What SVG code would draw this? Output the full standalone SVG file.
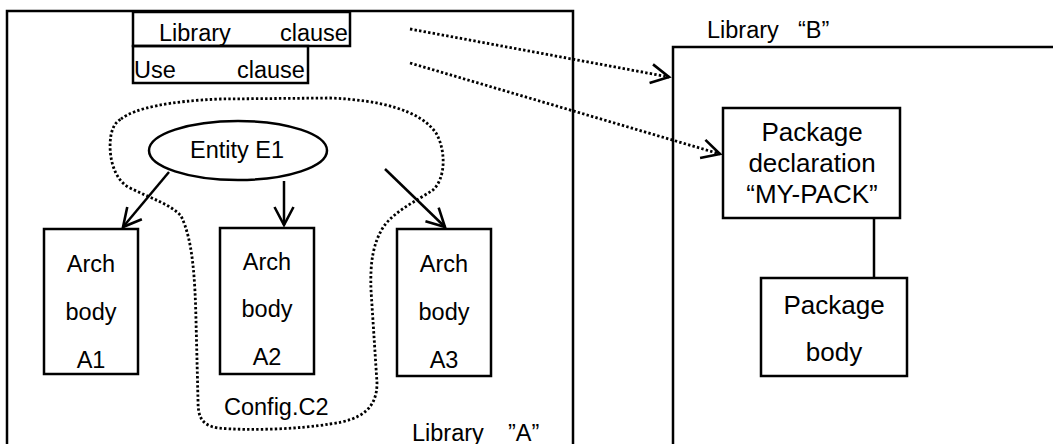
<svg xmlns="http://www.w3.org/2000/svg" width="1053" height="444" viewBox="0 0 1053 444">
<style>
.box{fill:none;stroke:#000;stroke-width:2.5}
.ln{fill:none;stroke:#000;stroke-width:2.5}
.dot{fill:none;stroke:#000;stroke-width:2.8;stroke-dasharray:2.4 2.2}
text{font-family:"Liberation Sans",Arial,sans-serif;font-size:23.5px;fill:#000}
.c{text-anchor:middle}
.pk{font-size:26px}
</style>
<defs>
<marker id="arr" markerUnits="userSpaceOnUse" markerWidth="40" markerHeight="40" refX="0" refY="0" viewBox="-20 -20 40 40" orient="auto" overflow="visible">
<path d="M-18,-9.5 L0,0 L-18,9.5" fill="none" stroke="#000" stroke-width="2.6" stroke-dasharray="none"/>
</marker>
</defs>
<rect width="1053" height="444" fill="#fff"/>
<g id="libraryA">
<rect class="box" x="7" y="11" width="566" height="445"/>
<text x="412" y="441">Library</text>
<text x="508" y="441">”A”</text>
</g>
<g id="libraryB">
<rect class="box" x="673" y="47" width="400" height="410"/>
<text x="707" y="38">Library</text>
<text x="798" y="38">“B”</text>
</g>
<g id="libclause">
<rect class="box" x="133" y="12" width="217" height="34"/>
<text y="41"><tspan x="159">Library</tspan><tspan x="280">clause</tspan></text>
</g>
<g id="useclause">
<rect class="box" x="133" y="46" width="175" height="37"/>
<text y="78"><tspan x="134">Use</tspan><tspan x="237">clause</tspan></text>
</g>
<g id="config">
<path class="dot" d="M121,119 C135,108 170,101 220,99 L330,98 C380,100 420,110 436,133 C446,150 446,178 433,190 C418,200 396,210 384,226 C373,243 370,262 371,290 L377,383 C377,408 362,420 330,424 C300,429 250,431 218,428 C200,425 198,415 198,400 L196,320 C195,280 193,240 181,216 C172,205 150,198 128,187 C112,177 108,152 111,135 C113,126 116,122 121,119 Z"/>
<text x="224" y="415">Config.C2</text>
</g>
<g id="entity">
<ellipse class="box" cx="238" cy="150.5" rx="89" ry="29.5"/>
<text class="c" x="237" y="158">Entity E1</text>
</g>
<g id="a1">
<rect class="box" x="44" y="229" width="94" height="145"/>
<text class="c" x="91" y="272">Arch</text>
<text class="c" x="91" y="320">body</text>
<text class="c" x="91" y="368">A1</text>
</g>
<g id="a2">
<rect class="box" x="220" y="228" width="94" height="146"/>
<text class="c" x="267" y="270">Arch</text>
<text class="c" x="267" y="317">body</text>
<text class="c" x="267" y="365">A2</text>
</g>
<g id="a3">
<rect class="box" x="397" y="229" width="94" height="147"/>
<text class="c" x="444" y="272">Arch</text>
<text class="c" x="444" y="320">body</text>
<text class="c" x="444" y="368">A3</text>
</g>
<g id="pkgdecl">
<rect class="box" x="723" y="108" width="177" height="110"/>
<text class="c pk" x="812" y="141">Package</text>
<text class="c pk" x="812" y="172">declaration</text>
<text class="c pk" x="812" y="203">“MY-PACK”</text>
</g>
<g id="pkgbody">
<rect class="box" x="761" y="278" width="146" height="98"/>
<text class="c pk" x="834" y="314">Package</text>
<text class="c pk" x="834" y="361">body</text>
</g>
<g id="connectors">
<line class="ln" x1="169" y1="172" x2="123" y2="227" marker-end="url(#arr)"/>
<line class="ln" x1="284" y1="181" x2="284" y2="225" marker-end="url(#arr)"/>
<line class="ln" x1="385" y1="169" x2="445" y2="227" marker-end="url(#arr)"/>
<line class="dot" x1="410" y1="29" x2="669" y2="77" marker-end="url(#arr)"/>
<line class="dot" x1="410" y1="63" x2="720" y2="154" marker-end="url(#arr)"/>
<line class="ln" x1="874" y1="218" x2="874" y2="278"/>
</g>
</svg>
